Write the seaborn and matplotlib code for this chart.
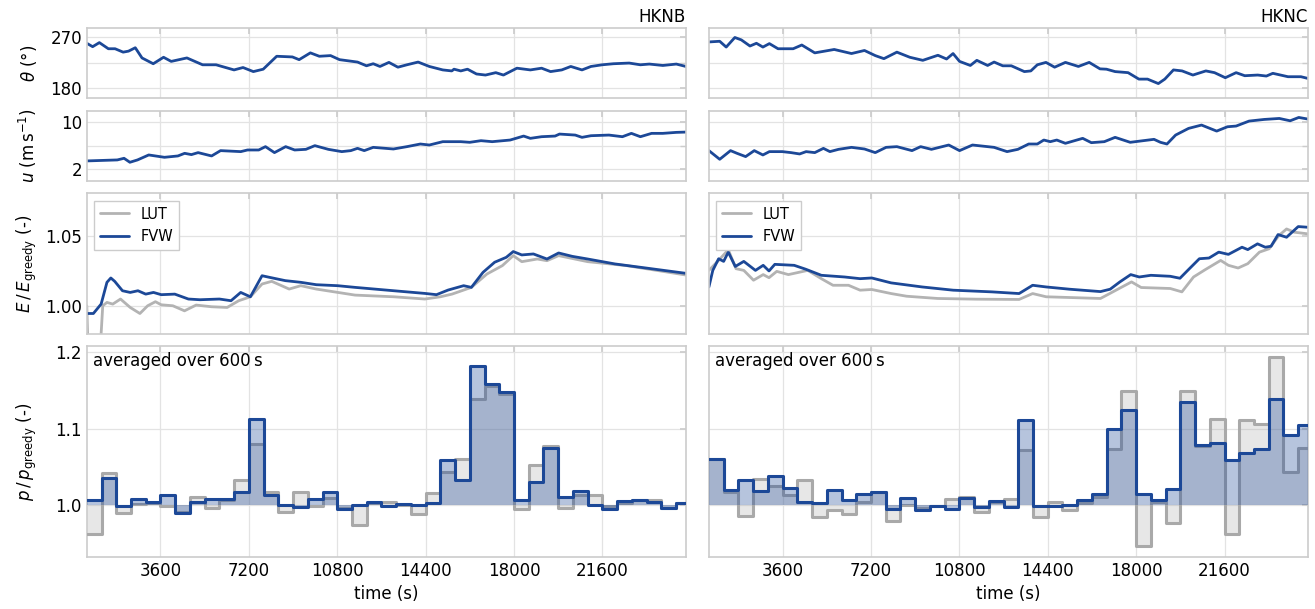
import numpy as np
import matplotlib
matplotlib.use("Agg")
import matplotlib.pyplot as plt
import seaborn as sns
from matplotlib.ticker import FixedLocator

# ---------------- data ----------------
turbines = ["HKNB", "HKNC"]
T_START, T_END = 600, 25000
xticks = [3600, 7200, 10800, 14400, 18000, 21600]

# wind direction (deg)
theta_t_B = [600, 838, 1112, 1478, 1752, 2081, 2300, 2575, 2849, 3306, 3726, 4037, 4677, 5317, 5866, 6597, 6963, 7383, 7785, 8334, 8974, 9248, 9705, 10071, 10528, 10894, 11625, 11991, 12265, 12540, 12905, 13271, 13637, 14094, 14551, 15099, 15465, 15557, 15831, 16105, 16471, 16837, 17257, 17568, 18117, 18665, 19122, 19488, 19945, 20311, 20768, 21134, 21591, 22049, 22689, 23146, 23512, 24060, 24609, 25000]
theta_B = [259.6, 253.5, 260.8, 249.8, 249.8, 243.7, 245.5, 251.6, 233.3, 222.9, 234.5, 227.1, 233.3, 221.0, 221.0, 211.8, 216.1, 208.8, 213.1, 236.3, 235.1, 230.2, 242.4, 236.3, 237.5, 230.2, 225.9, 219.2, 222.9, 218.0, 225.3, 216.7, 221.0, 225.9, 218.0, 211.8, 210.0, 213.1, 210.0, 213.1, 204.5, 202.6, 206.9, 202.6, 214.9, 211.8, 214.9, 208.8, 211.8, 218.0, 211.8, 218.0, 221.0, 222.9, 224.1, 221.0, 222.3, 219.8, 222.3, 218.0]
theta_t_C = [600, 1040, 1304, 1656, 1920, 2272, 2535, 2799, 3063, 3415, 4031, 4383, 4911, 5703, 6407, 6935, 7375, 7727, 8255, 8783, 9311, 9927, 10279, 10543, 10807, 11247, 11511, 11951, 12215, 12567, 12917, 13447, 13711, 13975, 14327, 14679, 15119, 15648, 16087, 16527, 16791, 17143, 17671, 18111, 18463, 18903, 19167, 19519, 19871, 20311, 20839, 21191, 21631, 22071, 22423, 22951, 23303, 23567, 24183, 24711, 25000]
theta_C = [262.0, 263.2, 252.8, 270.0, 265.7, 254.7, 259.6, 252.8, 259.0, 249.8, 249.8, 256.5, 242.4, 248.5, 241.2, 246.7, 237.5, 232.0, 243.7, 234.5, 229.0, 238.1, 231.4, 241.2, 227.1, 219.8, 229.0, 219.8, 225.9, 219.2, 219.2, 208.8, 210.0, 221.0, 225.3, 216.7, 225.3, 218.0, 225.3, 213.7, 213.1, 208.8, 206.9, 195.3, 195.3, 187.3, 195.3, 211.8, 210.0, 202.6, 210.0, 206.9, 197.8, 206.9, 201.4, 202.6, 200.8, 205.7, 199.6, 199.6, 196.5]

# wind speed (m/s)
u_t_B = [600, 1843, 2117, 2355, 2666, 3123, 3763, 4311, 4586, 4860, 5134, 5683, 6048, 6871, 7145, 7602, 7877, 8243, 8700, 9066, 9523, 9888, 10437, 10985, 11351, 11625, 11900, 12265, 13088, 13637, 14185, 14551, 15099, 15831, 16197, 16654, 17111, 17842, 18391, 18665, 19122, 19671, 19853, 20493, 20768, 21134, 21865, 22414, 22780, 23146, 23603, 24060, 24609, 25000]
u_B = [3.42, 3.59, 3.87, 3.19, 3.59, 4.44, 4.04, 4.27, 4.72, 4.50, 4.84, 4.27, 5.18, 5.01, 5.29, 5.29, 5.86, 4.84, 5.86, 5.29, 5.40, 6.03, 5.40, 5.01, 5.18, 5.57, 5.18, 5.74, 5.46, 5.86, 6.31, 6.14, 6.71, 6.71, 6.60, 6.88, 6.71, 6.99, 7.67, 7.28, 7.56, 7.67, 8.01, 7.84, 7.45, 7.73, 7.84, 7.56, 8.13, 7.56, 8.13, 8.13, 8.30, 8.35]
u_t_C = [600, 1040, 1480, 1744, 2096, 2447, 2799, 3063, 3591, 3943, 4295, 4559, 4911, 5263, 5527, 5879, 6407, 6935, 7375, 7815, 8255, 8871, 9223, 9663, 10367, 10807, 11335, 12215, 12743, 13183, 13623, 13975, 14239, 14503, 14767, 15119, 15823, 16175, 16703, 17143, 17759, 18287, 18727, 18991, 19255, 19607, 20135, 20663, 21279, 21719, 22071, 22599, 23215, 23831, 24271, 24623, 25000]
u_C = [5.18, 3.70, 5.18, 4.72, 4.16, 5.18, 4.44, 5.01, 5.01, 4.84, 4.61, 5.01, 4.84, 5.57, 5.01, 5.40, 5.74, 5.46, 4.84, 5.74, 5.86, 5.18, 5.86, 5.40, 6.14, 5.18, 6.14, 5.74, 5.01, 5.40, 6.31, 6.31, 6.99, 6.71, 6.99, 6.43, 7.28, 6.54, 6.71, 7.45, 6.60, 6.88, 7.11, 6.60, 6.31, 7.84, 8.98, 9.55, 8.52, 9.26, 9.38, 10.23, 10.51, 10.68, 10.28, 10.85, 10.57]

# cumulative energy ratio E / E_greedy
E_fvw_t_B = [600, 868, 1184, 1421, 1579, 1737, 2053, 2368, 2684, 3000, 3316, 3632, 4184, 4737, 5211, 6000, 6474, 6868, 7263, 7737, 8053, 8684, 9316, 9947, 10816, 11526, 13105, 14368, 14842, 15316, 15947, 16263, 16737, 17210, 17684, 17968, 18316, 18789, 19342, 19816, 20368, 21000, 22105, 23368, 25000]
E_fvw_B = [0.9945, 0.9945, 1.0012, 1.0167, 1.0198, 1.0174, 1.0107, 1.0095, 1.0107, 1.0083, 1.0095, 1.0079, 1.0083, 1.0048, 1.0043, 1.0048, 1.0036, 1.0095, 1.0064, 1.0214, 1.0202, 1.0179, 1.0167, 1.0150, 1.0143, 1.0131, 1.0107, 1.0088, 1.0079, 1.0112, 1.0143, 1.0131, 1.0238, 1.0310, 1.0345, 1.0386, 1.0362, 1.0369, 1.0333, 1.0376, 1.0352, 1.0333, 1.0298, 1.0269, 1.0231]
E_lut_t_B = [600, 650, 1150, 1250, 1421, 1658, 1974, 2368, 2763, 3079, 3395, 3632, 4105, 4579, 5053, 5684, 6316, 6789, 7263, 7737, 8132, 8842, 9316, 9947, 11526, 13105, 14368, 15000, 15474, 16263, 16895, 17526, 17968, 18316, 18947, 19342, 19816, 21000, 22579, 25000]
E_lut_B = [1.0000, 0.9700, 0.9700, 1.0000, 1.0024, 1.0012, 1.0048, 0.9988, 0.9945, 1.0000, 1.0029, 1.0007, 1.0000, 0.9964, 1.0005, 0.9993, 0.9988, 1.0036, 1.0064, 1.0155, 1.0174, 1.0119, 1.0143, 1.0119, 1.0076, 1.0064, 1.0048, 1.0064, 1.0083, 1.0131, 1.0226, 1.0286, 1.0357, 1.0314, 1.0333, 1.0321, 1.0357, 1.0314, 1.0286, 1.0219]
E_fvw_t_C = [600, 758, 995, 1200, 1389, 1674, 2021, 2495, 2811, 3047, 3284, 4074, 4547, 5179, 6126, 6758, 7232, 8021, 9284, 10547, 12126, 13232, 13784, 14337, 15284, 16547, 16942, 17337, 17779, 18126, 18600, 19389, 19784, 20100, 20574, 20968, 21363, 21758, 22311, 22547, 22942, 23258, 23495, 23779, 24126, 24600, 25000]
E_fvw_C = [1.0134, 1.0252, 1.0335, 1.0316, 1.0382, 1.0280, 1.0316, 1.0252, 1.0288, 1.0248, 1.0295, 1.0288, 1.0260, 1.0217, 1.0205, 1.0193, 1.0198, 1.0163, 1.0134, 1.0111, 1.0099, 1.0087, 1.0146, 1.0134, 1.0118, 1.0101, 1.0118, 1.0170, 1.0222, 1.0205, 1.0217, 1.0210, 1.0196, 1.0252, 1.0335, 1.0340, 1.0382, 1.0366, 1.0417, 1.0400, 1.0441, 1.0417, 1.0424, 1.0507, 1.0488, 1.0564, 1.0559]
E_lut_t_C = [600, 995, 1389, 1705, 2021, 2416, 2811, 3047, 3363, 3837, 4626, 5179, 5653, 6284, 6758, 7232, 8021, 8653, 9916, 11495, 13232, 13784, 14337, 16547, 17179, 17811, 18205, 19389, 19863, 20337, 20811, 21442, 21758, 22153, 22547, 23021, 23416, 23811, 24126, 24442, 25000]
E_lut_C = [1.0252, 1.0323, 1.0399, 1.0264, 1.0252, 1.0182, 1.0222, 1.0200, 1.0245, 1.0222, 1.0252, 1.0193, 1.0146, 1.0146, 1.0111, 1.0116, 1.0087, 1.0068, 1.0052, 1.0047, 1.0045, 1.0087, 1.0064, 1.0052, 1.0111, 1.0170, 1.0130, 1.0123, 1.0099, 1.0205, 1.0257, 1.0323, 1.0288, 1.0269, 1.0300, 1.0382, 1.0406, 1.0500, 1.0547, 1.0524, 1.0512]

# power ratio p / p_greedy averaged over 600 s bins (bin start times)
bin_start = np.arange(600, 25000, 600)
p_fvw_B = [1.007, 1.036, 0.999, 1.009, 1.005, 1.014, 0.990, 1.005, 1.008, 1.008,
           1.018, 1.113, 1.013, 1.000, 0.998, 1.009, 1.018, 0.996, 1.001, 1.005,
           0.999, 1.002, 1.000, 1.003, 1.059, 1.033, 1.181, 1.158, 1.147, 1.0065,
           1.030, 1.075, 1.011, 1.019, 1.000, 0.996, 1.006, 1.0065, 1.004, 0.997, 1.003]
p_lut_B = [0.963, 1.042, 0.9905, 1.002, 1.003, 0.999, 0.992, 1.0116, 0.997, 1.007,
           1.033, 1.080, 1.017, 0.992, 1.018, 0.999, 1.0095, 0.997, 0.975, 1.003,
           1.004, 1.001, 0.989, 1.016, 1.044, 1.061, 1.139, 1.155, 1.145, 0.9957,
           1.0526, 1.078, 0.9966, 1.0138, 1.0138, 0.9987, 1.0026, 1.007, 1.007, 0.9966, 1.003]
p_fvw_C = [1.061, 1.020, 1.033, 1.019, 1.039, 1.023, 1.005, 1.0034, 1.0207, 1.007,
           1.015, 1.017, 0.9957, 1.0095, 0.9944, 0.9987, 0.9957, 1.0103, 0.9974, 1.0056,
           0.998, 1.111, 0.9991, 0.999, 1.000, 1.007, 1.0147, 1.0996, 1.124, 1.0155,
           1.0065, 1.021, 1.1345, 1.079, 1.0815, 1.0586, 1.0685, 1.073, 1.139, 1.092, 1.105]
p_lut_C = [1.060, 1.018, 0.986, 1.035, 1.025, 1.014, 1.033, 0.985, 0.9935, 0.9888,
           1.005, 1.018, 0.980, 1.001, 0.9966, 0.999, 1.0086, 1.0116, 0.992, 1.005,
           1.008, 1.072, 0.9845, 1.004, 0.9944, 1.003, 1.0116, 1.073, 1.149, 0.947,
           1.005, 0.9767, 1.149, 1.078, 1.113, 0.963, 1.111, 1.106, 1.1935, 1.043, 1.075]

# ---------------- style ----------------
BLUE = "#1c4897"
GREY = "#b3b3b3"
sns.set_theme(style="whitegrid")
plt.rcParams.update({
    "axes.edgecolor": "#cccccc",
    "axes.linewidth": 1.2,
    "grid.color": "#e3e3e3",
    "grid.linewidth": 0.9,
    "xtick.direction": "in",
    "ytick.direction": "in",
    "xtick.top": True,
    "ytick.right": True,
    "xtick.major.size": 4,
    "ytick.major.size": 4,
    "ytick.minor.size": 4,
    "xtick.color": "#cccccc",
    "ytick.color": "#cccccc",
    "xtick.labelcolor": "black",
    "ytick.labelcolor": "black",
    "text.color": "black",
    "axes.labelcolor": "black",
    "xtick.labelsize": 12,
    "ytick.labelsize": 12,
    "axes.labelsize": 12,
    "axes.titlesize": 12,
    "mathtext.fontset": "dejavusans",
})
plt.rcParams["font.family"] = ["DejaVu Sans"]

fig, axes = plt.subplots(4, 2, figsize=(13.15, 6.09), dpi=100, sharex=True,
                         sharey="row", gridspec_kw=dict(height_ratios=[1, 1, 2, 3]))
fig.subplots_adjust(left=0.066, right=0.9947, top=0.954, bottom=0.0854,
                    hspace=0.1017, wspace=0.0384)

data = {
    "HKNB": dict(tt=theta_t_B, th=theta_B, ut=u_t_B, u=u_B,
                 eft=E_fvw_t_B, ef=E_fvw_B, elt=E_lut_t_B, el=E_lut_B,
                 pf=p_fvw_B, pl=p_lut_B),
    "HKNC": dict(tt=theta_t_C, th=theta_C, ut=u_t_C, u=u_C,
                 eft=E_fvw_t_C, ef=E_fvw_C, elt=E_lut_t_C, el=E_lut_C,
                 pf=p_fvw_C, pl=p_lut_C),
}

edges = np.append(bin_start, T_END)

for j, name in enumerate(turbines):
    d = data[name]
    ax0, ax1, ax2, ax3 = axes[:, j]

    sns.lineplot(x=d["tt"], y=d["th"], ax=ax0, color=BLUE, lw=2, estimator=None)
    ax0.set_title(name, loc="right", pad=4, color="black")

    sns.lineplot(x=d["ut"], y=d["u"], ax=ax1, color=BLUE, lw=2, estimator=None)

    sns.lineplot(x=d["elt"], y=d["el"], ax=ax2, color=GREY, lw=2, estimator=None, label="LUT")
    sns.lineplot(x=d["eft"], y=d["ef"], ax=ax2, color=BLUE, lw=2, estimator=None, label="FVW")
    leg = ax2.legend(loc="upper left", fontsize=10.5, frameon=True, fancybox=False,
                     framealpha=1, edgecolor="#cccccc", borderaxespad=0.5)
    for t in leg.get_texts():
        t.set_color("black")

    pl = np.asarray(d["pl"])
    pf = np.asarray(d["pf"])
    ax3.bar(bin_start, pl - 1, bottom=1, width=600, align="edge",
            color="#a0a0a0", alpha=0.25, lw=0, zorder=2)
    sns.lineplot(x=edges, y=np.append(pl, pl[-1]), ax=ax3, color="#a9a9a9", lw=2.2,
                 drawstyle="steps-post", estimator=None, sort=False, zorder=3)
    ax3.bar(bin_start, pf - 1, bottom=1, width=600, align="edge",
            color=BLUE, alpha=0.32, lw=0, zorder=4)
    sns.lineplot(x=edges, y=np.append(pf, pf[-1]), ax=ax3, color=BLUE, lw=2.2,
                 drawstyle="steps-post", estimator=None, sort=False, zorder=5)
    ax3.text(0.01, 0.975, "averaged over 600\u2009s", transform=ax3.transAxes,
             ha="left", va="top", fontsize=12, color="black")
    ax3.set_xlabel("time (s)")

    for ax in (ax0, ax1, ax2, ax3):
        ax.set_ylabel("")
        ax.grid(True, which="both")
        ax.tick_params(which="both", length=4)

axes[0, 0].set_ylim(161, 287)
axes[0, 0].yaxis.set_major_locator(FixedLocator([180, 270]))
axes[0, 0].yaxis.set_minor_locator(FixedLocator([225]))
axes[1, 0].set_ylim(0, 12)
axes[1, 0].yaxis.set_major_locator(FixedLocator([2, 10]))
axes[1, 0].yaxis.set_minor_locator(FixedLocator([6]))
axes[2, 0].set_ylim(0.98, 1.08)
axes[2, 0].set_yticks([1.00, 1.05])
axes[3, 0].set_ylim(0.933, 1.207)
axes[3, 0].set_yticks([1.0, 1.1, 1.2])
for ax in axes.flat:
    ax.xaxis.set_minor_locator(FixedLocator([]))
axes[3, 0].set_xlim(T_START, T_END)
axes[3, 0].set_xticks(xticks)

axes[0, 0].set_ylabel(r"$\theta$ (°)")
axes[1, 0].set_ylabel(r"$u$ (m$\,$s$^{-1}$)")
axes[2, 0].set_ylabel(r"$E\,/\,E_\mathrm{greedy}$ (-)")
axes[3, 0].set_ylabel(r"$p\,/\,p_\mathrm{greedy}$ (-)")
fig.align_ylabels(axes[:, 0])

fig.savefig("out.png", dpi=100)
